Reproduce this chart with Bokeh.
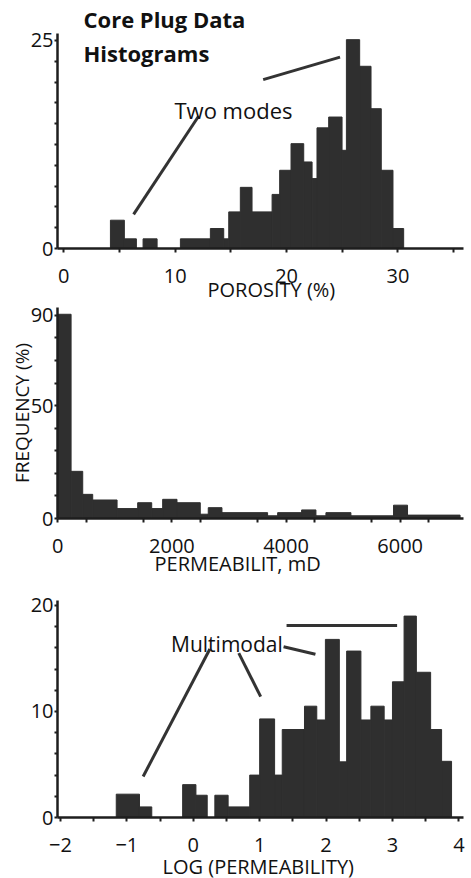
from bokeh.plotting import figure
from bokeh.models import Range1d, FixedTicker, Label, Title
from bokeh.layouts import column
from bokeh.embed import file_html
from bokeh.resources import INLINE
import numpy as np

# ---------------- data ----------------
# Porosity histogram (bin edges in %, frequency)
por_edges = [4.19, 5.44, 6.52, 7.12, 8.38, 10.47, 13.16, 14.36, 14.81, 15.85, 16.9,
             18.7, 19.38, 20.4, 21.54, 22.29, 22.73, 23.78, 24.98, 25.37, 26.56,
             27.58, 28.5, 29.55, 30.51]
por_freq = [3.4, 1.16, 0, 1.16, 0, 1.16, 2.4, 1.16, 4.4, 7.35, 4.4, 6.5, 9.4, 12.6,
            10.4, 8.4, 14.5, 15.8, 11.8, 25.1, 21.9, 16.8, 9.4, 2.4]
por_ticks = [0, 10, 20, 30]
por_minor = [5, 15, 25, 35]
por_yticks = [0, 25]

# Permeability histogram (bin edges in mD, frequency %)
perm_edges = [0, 233, 437, 612, 1039, 1400, 1646, 1838, 2089, 2497, 2637, 2877,
              3677, 3853, 4273, 4524, 4699, 5137, 5884, 6129, 7050]
perm_freq = [90.5, 20.9, 10.7, 8.2, 4.4, 7.0, 4.4, 8.5, 7.0, 1.9, 4.8, 2.6, 1.2,
             2.6, 3.8, 1.2, 2.6, 1.2, 5.9, 1.5]
perm_ticks = [0, 2000, 4000, 6000]
perm_yticks = [0, 50, 90]

# Log-permeability histogram
logk_edges = [-1.16, -0.81, -0.625, -0.16, 0.04, 0.21, 0.325, 0.525, 0.85, 1.0,
              1.225, 1.34, 1.675, 1.86, 1.99, 2.2, 2.31, 2.525, 2.675, 2.875, 3.0,
              3.175, 3.36, 3.575, 3.74, 3.89]
logk_freq = [2.2, 1.0, 0, 3.1, 2.1, 0, 2.1, 1.0, 4.0, 9.3, 4.0, 8.3, 10.5, 9.2,
             16.8, 5.25, 15.7, 9.2, 10.5, 9.2, 12.8, 19.0, 13.7, 8.3, 5.3]
logk_ticks = [-2, -1, 0, 1, 2, 3, 4]
logk_yticks = [0, 10, 20]

# Annotation leader lines (data coordinates of each panel)
por_lead1_x, por_lead1_y = [17.9, 24.8], [20.3, 23.0]
por_lead2_x, por_lead2_y = [12.1, 6.27], [15.9, 4.1]
logk_leads = [([0.25, -0.755], [15.9, 3.87]),
              ([0.685, 1.015], [15.5, 11.4]),
              ([1.36, 1.84], [16.1, 15.4]),
              ([1.405, 3.07], [18.1, 18.1])]

FONT = "Open Sans"
BAR = "#2f2f2f"
INK = "#1e1e1e"


def make_fig(height, xr, yr, top, bottom):
    p = figure(width=471, height=height, x_range=Range1d(*xr), y_range=Range1d(*yr),
               output_backend="svg", toolbar_location=None,
               min_border_left=57, min_border_right=8,
               min_border_top=top, min_border_bottom=bottom)
    p.outline_line_color = None
    p.grid.visible = False
    p.background_fill_color = "white"
    p.border_fill_color = "white"
    for ax in (p.xaxis[0], p.yaxis[0]):
        ax.axis_line_color = INK
        ax.axis_line_width = 2.5
        ax.major_tick_line_color = INK
        ax.minor_tick_line_color = INK
        ax.major_tick_line_width = 2
        ax.minor_tick_line_width = 2
        ax.major_tick_in = 0
        ax.minor_tick_in = 0
        ax.major_tick_out = 4
        ax.minor_tick_out = 4
        ax.major_label_text_font = FONT
        ax.major_label_text_font_size = "20px"
        ax.major_label_text_color = "#111111"
    p.xaxis[0].major_label_standoff = 16
    p.yaxis[0].major_label_standoff = 1
    p.yaxis[0].major_tick_out = 3
    p.yaxis[0].minor_tick_out = 3
    return p


def add_label(p, x, y, text, size, align="left", bold=False):
    p.add_layout(Label(x=x, y=y, text=text, text_font=FONT, text_font_size=size,
                       text_align=align, text_baseline="alphabetic",
                       text_color="#111111",
                       text_font_style="bold" if bold else "normal"))


def add_xlabel(p, text, offset, standoff):
    t = Title(text=text, align="left", offset=offset, standoff=0,
              text_font=FONT, text_font_size="20px", text_font_style="normal",
              text_color="#111111")
    try:
        t.standoff = standoff
    except Exception:
        t.standoff = 0
    p.add_layout(t, "below")


# ---------------- panel 1 : porosity ----------------
p1 = make_fig(301, (-0.56, 35.88), (0, 25.84), 33, 53)
p1.title.text = "Core Plug Data"
p1.title.align = "left"
p1.title.offset = 26
p1.title.standoff = 0
p1.title.text_font = FONT
p1.title.text_font_size = "22px"
p1.title.text_font_style = "bold"
p1.title.text_color = "#111111"
p1.quad(left=por_edges[:-1], right=por_edges[1:], top=por_freq, bottom=0,
        fill_color=BAR, line_color=BAR)
p1.xaxis[0].ticker = FixedTicker(ticks=por_ticks, minor_ticks=por_minor)
p1.yaxis[0].ticker = FixedTicker(ticks=por_yticks, minor_ticks=list(np.arange(2.5, 25, 2.5)))
p1.line(por_lead1_x, por_lead1_y, line_width=3, line_color="#333333")
p1.line(por_lead2_x, por_lead2_y, line_width=3, line_color="#333333")
add_label(p1, 9.94, 16.6, "Two modes", "22px")
add_label(p1, 1.77, 23.44, "Histograms", "22px", bold=True)
add_xlabel(p1, "POROSITY (%)", 150, -24)

# ---------------- panel 2 : permeability ----------------
p2 = make_fig(277, (-5, 7110), (0, 93.5), 6, 60)
p2.quad(left=perm_edges[:-1], right=perm_edges[1:], top=perm_freq, bottom=0,
        fill_color=BAR, line_color=BAR)
p2.xaxis[0].ticker = FixedTicker(ticks=perm_ticks, minor_ticks=list(range(500, 7001, 1000)))
p2.yaxis[0].ticker = FixedTicker(ticks=perm_yticks, minor_ticks=[10, 20, 30, 40, 60, 70, 80])
p2.yaxis[0].axis_label = "FREQUENCY (%)"
p2.yaxis[0].axis_label_standoff = -7
p2.yaxis[0].axis_label_text_font = FONT
p2.yaxis[0].axis_label_text_font_size = "19px"
p2.yaxis[0].axis_label_text_font_style = "normal"
p2.yaxis[0].axis_label_text_color = "#111111"
add_xlabel(p2, "PERMEABILIT, mD", 97, -15)

# ---------------- panel 3 : log permeability ----------------
p3 = make_fig(300, (-2.045, 4.07), (0, 20.47), 22, 61)
p3.quad(left=logk_edges[:-1], right=logk_edges[1:], top=logk_freq, bottom=0,
        fill_color=BAR, line_color=BAR)
p3.xaxis[0].ticker = FixedTicker(ticks=logk_ticks, minor_ticks=[-1.5, -0.5, 0.5, 1.5, 2.5, 3.5])
p3.yaxis[0].ticker = FixedTicker(ticks=logk_yticks, minor_ticks=[2, 4, 6, 8, 12, 14, 16, 18])
for lx, ly in logk_leads:
    p3.line(lx, ly, line_width=3, line_color="#333333")
add_label(p3, -0.335, 16.4, "Multimodal", "21px")
add_xlabel(p3, "LOG (PERMEABILITY)", 105, -8)

layout = column(p1, p2, p3, spacing=0)
open("out.html", "w").write(file_html(layout, INLINE))
